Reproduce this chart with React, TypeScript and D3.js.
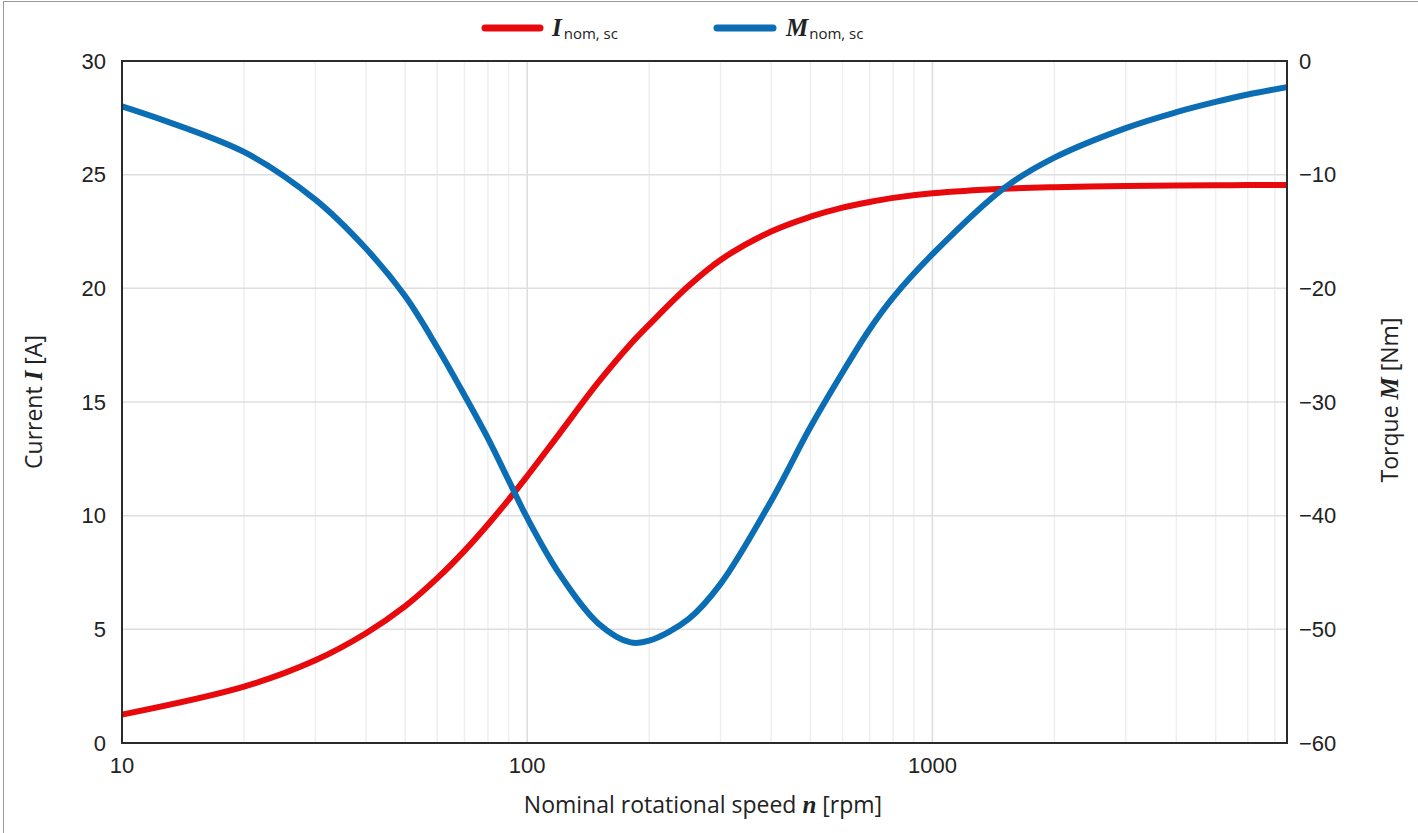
import React from "react";
import * as d3 from "d3";

// Nominal rotational speed n [rpm]
const speeds = [10, 20, 30, 40, 50, 60, 70, 80, 90, 100, 120, 150, 180, 200, 250, 300, 400, 500, 600, 700, 800, 1000, 1500, 2000, 3000, 4000, 5000, 6000, 7500];
// Short-circuit current I_nom,sc [A]
const currentA = [1.25, 2.48, 3.64, 4.83, 6.02, 7.25, 8.45, 9.61, 10.71, 11.74, 13.6, 15.88, 17.55, 18.4, 20.1, 21.25, 22.5, 23.15, 23.55, 23.8, 23.98, 24.18, 24.38, 24.45, 24.5, 24.52, 24.53, 24.54, 24.55];
// Short-circuit torque M_nom,sc [Nm]
const torqueNm = [-4.0, -8.0, -12.2, -16.5, -20.7, -25.2, -29.4, -33.2, -36.9, -40.2, -45.1, -49.5, -51.15, -51.0, -49.1, -46.0, -38.7, -32.2, -27.4, -23.6, -20.8, -17.0, -11.2, -8.5, -5.9, -4.5, -3.6, -2.95, -2.3];

const xTickValues = [10, 100, 1000];
const leftTickValues = [0, 5, 10, 15, 20, 25, 30];
const rightTickValues = [0, -10, -20, -30, -40, -50, -60];

const W = 1418;
const H = 833;
const plot = { left: 122, right: 1287, top: 61, bottom: 743 };

const RED = "#e8090d";
const BLUE = "#0b6db4";
const TICK_FONT = "'Liberation Sans', Arial, sans-serif";
const TITLE_FONT = "'Open Sans', 'Noto Sans', sans-serif";
const MATH_FONT = "'Liberation Serif', 'DejaVu Serif', serif";

export default function App() {
  const x = d3.scaleLog().domain([10, 7500]).range([plot.left, plot.right]);
  const yL = d3.scaleLinear().domain([0, 30]).range([plot.bottom, plot.top]);
  const yR = d3.scaleLinear().domain([-60, 0]).range([plot.bottom, plot.top]);

  const minorX: number[] = [];
  for (const dec of [10, 100, 1000]) {
    for (let k = 2; k <= 9; k++) {
      const v = dec * k;
      if (v < 7500) minorX.push(v);
    }
  }

  const currentLine = d3
    .line<number>()
    .x((_, i) => x(speeds[i]))
    .y((d) => yL(d))
    .curve(d3.curveCatmullRom.alpha(0.5));
  const torqueLine = d3
    .line<number>()
    .x((_, i) => x(speeds[i]))
    .y((d) => yR(d))
    .curve(d3.curveCatmullRom.alpha(0.5));

  const fmtMinus = (v: number) => (v < 0 ? "\u2212" + Math.abs(v) : String(v));

  return (
    <svg
      width={W}
      height={H}
      style={{ position: "absolute", left: 0, top: 0, background: "#fff" }}
    >
      <rect x={3.5} y={1.5} width={W + 10} height={H + 10} fill="#fff" stroke="#9a9a9a" strokeWidth={1} />

      {/* grid */}
      <g>
        {minorX.map((v) => (
          <line key={"mx" + v} x1={x(v)} x2={x(v)} y1={plot.top} y2={plot.bottom} stroke="#efefef" strokeWidth={1.5} />
        ))}
        {xTickValues.slice(1).map((v) => (
          <line key={"Mx" + v} x1={x(v)} x2={x(v)} y1={plot.top} y2={plot.bottom} stroke="#dcdcdc" strokeWidth={1.5} />
        ))}
        {leftTickValues.slice(1, -1).map((v) => (
          <line key={"gy" + v} x1={plot.left} x2={plot.right} y1={yL(v)} y2={yL(v)} stroke="#dedede" strokeWidth={1.5} />
        ))}
      </g>

      {/* curves */}
      <path d={currentLine(currentA) || ""} fill="none" stroke={RED} strokeWidth={6} strokeLinejoin="round" />
      <path d={torqueLine(torqueNm) || ""} fill="none" stroke={BLUE} strokeWidth={6} strokeLinejoin="round" />

      {/* frame */}
      <rect
        x={plot.left}
        y={plot.top}
        width={plot.right - plot.left}
        height={plot.bottom - plot.top}
        fill="none"
        stroke="#2b2b2b"
        strokeWidth={2}
      />

      {/* tick labels */}
      <g fontFamily={TICK_FONT} fontSize={22} fill="#222">
        {leftTickValues.map((v) => (
          <text key={"lt" + v} x={106} y={yL(v)} textAnchor="end" dominantBaseline="central">
            {v}
          </text>
        ))}
        {rightTickValues.map((v) => (
          <text key={"rt" + v} x={1299} y={yR(v)} textAnchor="start" dominantBaseline="central">
            {fmtMinus(v)}
          </text>
        ))}
        {xTickValues.map((v) => (
          <text key={"xt" + v} x={x(v)} y={773} textAnchor="middle">
            {v}
          </text>
        ))}
      </g>

      {/* axis titles */}
      <text x={703} y={813} textAnchor="middle" fontFamily={TITLE_FONT} fontSize={23} fill="#222">
        Nominal rotational speed{" "}
        <tspan fontFamily={MATH_FONT} fontStyle="italic" fontWeight="bold" fontSize={25}>n</tspan> [rpm]
      </text>
      <text
        transform={`translate(42, 402) rotate(-90)`}
        textAnchor="middle"
        fontFamily={TITLE_FONT}
        fontSize={23}
        fill="#222"
      >
        Current <tspan fontFamily={MATH_FONT} fontStyle="italic" fontWeight="bold" fontSize={25}>I</tspan> [A]
      </text>
      <text
        transform={`translate(1398, 400) rotate(-90)`}
        textAnchor="middle"
        fontFamily={TITLE_FONT}
        fontSize={23}
        fill="#222"
      >
        Torque <tspan fontFamily={MATH_FONT} fontStyle="italic" fontWeight="bold" fontSize={25}>M</tspan> [Nm]
      </text>

      {/* legend */}
      <g>
        <line x1={485} x2={540} y1={28} y2={28} stroke={RED} strokeWidth={7} strokeLinecap="round" />
        <text x={552} y={36} fill="#222">
          <tspan fontFamily={MATH_FONT} fontStyle="italic" fontWeight="bold" fontSize={25}>I</tspan>
          <tspan fontFamily={TITLE_FONT} fontSize={15} dx={2} dy={3}>nom, sc</tspan>
        </text>
        <line x1={717} x2={773} y1={28} y2={28} stroke={BLUE} strokeWidth={7} strokeLinecap="round" />
        <text x={786} y={36} fill="#222">
          <tspan fontFamily={MATH_FONT} fontStyle="italic" fontWeight="bold" fontSize={25}>M</tspan>
          <tspan fontFamily={TITLE_FONT} fontSize={15} dx={1} dy={3}>nom, sc</tspan>
        </text>
      </g>
    </svg>
  );
}
